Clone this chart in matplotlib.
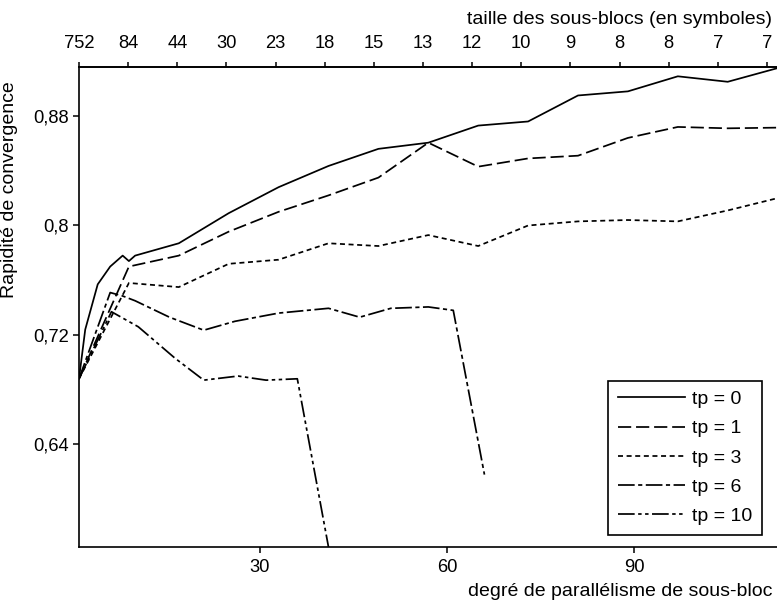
import matplotlib
matplotlib.use("Agg")
import matplotlib.pyplot as plt
from matplotlib.ticker import FixedLocator, FixedFormatter

plt.rcParams['font.family'] = ['Liberation Sans', 'DejaVu Sans']
plt.rcParams['lines.scale_dashes'] = False

# ---- data ----
x_tp0 = [1, 2, 4, 6, 8, 9, 10, 17, 25, 33, 41, 49, 57, 65, 73, 81, 89, 97, 105, 113]
y_tp0 = [0.688, 0.724, 0.757, 0.770, 0.778, 0.774, 0.778, 0.787, 0.809, 0.828, 0.8435,
         0.856, 0.8605, 0.873, 0.876, 0.895, 0.898, 0.909, 0.905, 0.915]

x_tp1 = [1, 9, 17, 25, 33, 41, 49, 57, 65, 73, 81, 89, 97, 105, 113]
y_tp1 = [0.688, 0.770, 0.778, 0.7955, 0.810, 0.822, 0.835, 0.8605, 0.843, 0.849, 0.851,
         0.864, 0.872, 0.871, 0.8715]

x_tp3 = [1, 9, 17, 25, 33, 41, 49, 57, 65, 73, 81, 89, 97, 105, 113]
y_tp3 = [0.688, 0.758, 0.755, 0.772, 0.775, 0.787, 0.785, 0.793, 0.785, 0.800, 0.803,
         0.804, 0.803, 0.811, 0.820]

x_tp6 = [1, 6, 8, 10, 15.5, 21, 26, 33, 41, 46, 51, 57, 61, 66]
y_tp6 = [0.688, 0.751, 0.7485, 0.745, 0.733, 0.7235, 0.730, 0.736, 0.7395, 0.733,
         0.7395, 0.7405, 0.738, 0.618]

x_tp10 = [1, 6.2, 10.5, 16.4, 21, 26.5, 31, 36, 41]
y_tp10 = [0.688, 0.737, 0.726, 0.703, 0.687, 0.690, 0.687, 0.688, 0.565]

series_labels = ["tp = 0", "tp = 1", "tp = 3", "tp = 6", "tp = 10"]

bottom_ticks = [30, 60, 90]
y_ticks = [0.64, 0.72, 0.80, 0.88]
y_tick_labels = ["0,64", "0,72", "0,8", "0,88"]

top_tick_pos = [1, 9, 17, 25, 33, 41, 49, 57, 65, 73, 81, 89, 97, 105, 113]
top_tick_labels = ["752", "84", "44", "30", "23", "18", "15", "13", "12", "10",
                   "9", "8", "8", "7", "7"]

# ---- figure ----
W, H = 777, 605
fig = plt.figure(figsize=(W / 100, H / 100), dpi=100)
ax = fig.add_axes([79 / W, 1 - 547 / H, 698 / W, 480 / H])

FS = 13.2
LFS = 14
lw = 1.25
styles = [
    dict(linestyle='-'),
    dict(dashes=(9.5, 3.5)),
    dict(dashes=(3.6, 2.6)),
    dict(dashes=(12, 2.5, 3, 2.5)),
    dict(dashes=(12, 2.5, 2.5, 2.5, 2.5, 2.5)),
]
xs = [x_tp0, x_tp1, x_tp3, x_tp6, x_tp10]
ys = [y_tp0, y_tp1, y_tp3, y_tp6, y_tp10]
for xv, yv, st, lab in zip(xs, ys, styles, series_labels):
    ax.plot(xv, yv, color='black', lw=lw, label=lab, **st)

ax.set_xlim(1, 112.9)
ax.set_ylim(0.5651, 0.9158)

ax.set_xticks(bottom_ticks)
ax.set_yticks(y_ticks)
ax.set_yticklabels(y_tick_labels)
ax.tick_params(axis='x', direction='out', length=4.5, width=1.1, pad=4.5,
               labelsize=FS, colors='black')
ax.tick_params(axis='y', direction='out', length=4.5, width=1.1, pad=3,
               labelsize=FS, colors='black')

for s in ['left', 'bottom', 'top']:
    ax.spines[s].set_linewidth(1.2)
    ax.spines[s].set_color('black')
ax.spines['right'].set_visible(False)

# top axis
ax2 = ax.twiny()
ax2.set_xlim(1, 1 + 8 * 698 / 49.14)
ax2.xaxis.set_major_locator(FixedLocator(top_tick_pos))
ax2.xaxis.set_major_formatter(FixedFormatter(top_tick_labels))
ax2.tick_params(axis='x', direction='out', length=3.6, width=1.1, pad=7,
                labelsize=FS, colors='black')
for s in ['left', 'bottom', 'right']:
    ax2.spines[s].set_visible(False)
ax2.spines['top'].set_linewidth(1.2)

# labels
ax.set_ylabel("Rapidité de convergence", fontsize=LFS)
ax.yaxis.set_label_coords((18 - 79) / 698, (547 - 190) / 480)
fig.text(772 / W, 1 - 592 / H, "degré de parallélisme de sous-bloc",
         ha='right', va='center', fontsize=LFS)
fig.text(772 / W, 1 - 20 / H, "taille des sous-blocs (en symboles)",
         ha='right', va='center', fontsize=LFS)

leg = ax.legend(loc='lower right', bbox_to_anchor=((762 - 79) / 698, (547 - 535) / 480),
                bbox_transform=ax.transAxes, borderaxespad=0, fontsize=LFS,
                handlelength=3.45, handletextpad=0.35, labelspacing=0.6,
                borderpad=0.5, fancybox=False, framealpha=1, edgecolor='black')
leg.get_frame().set_linewidth(1.2)

fig.savefig("out.png", dpi=100)
